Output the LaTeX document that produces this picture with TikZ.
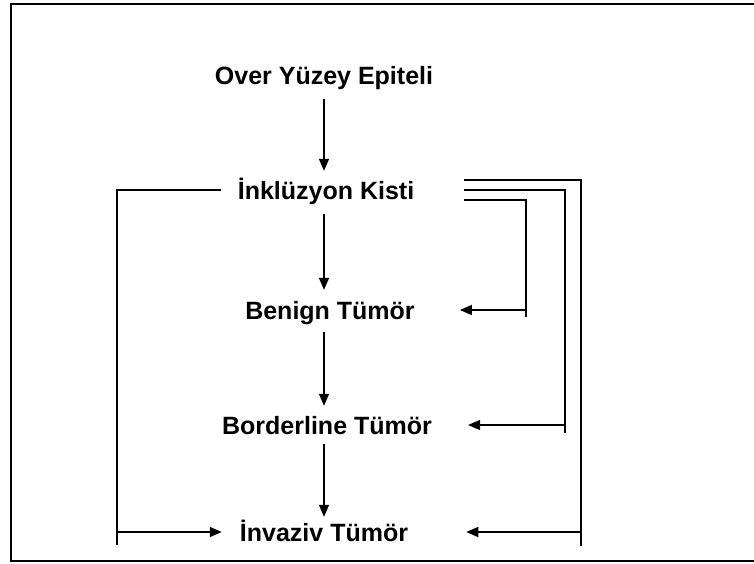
\documentclass[tikz,border=0pt]{standalone}
\usepackage{fontspec}
\setmainfont{Liberation Sans}
\usetikzlibrary{arrows.meta,calc}
\begin{document}
\begin{tikzpicture}[x=1pt,y=-1pt,
  lbl/.style={font=\fontsize{25pt}{30pt}\selectfont\bfseries, inner sep=0pt, text height=18pt, text depth=0pt, anchor=center},
  conn/.style={line width=1.5pt},
  arr/.style={conn, -{Triangle[length=12pt,width=10pt]}},
  frame/.style={line width=2.4pt}]
\useasboundingbox (0,0) rectangle (754,563);
\draw[frame] (754,4) -- (11,4) -- (11,561) -- (754,561);

\node[lbl] (o) at (324,75) {Over Yüzey Epiteli};
\node[lbl] (k) at (326,190) {İnklüzyon Kisti};
\node[lbl] (b) at (330,310) {Benign Tümör};
\node[lbl] (d) at (327,425) {Borderline Tümör};
\node[lbl] (v) at (324,532) {İnvaziv Tümör};

% vertical chain
\draw[arr, shorten <=15pt, shorten >=10pt] (o.south -| 324,0) -- (k.north -| 324,0);
\draw[arr, shorten <=15pt, shorten >=11pt] (k.south -| 324,0) -- (b.north -| 324,0);
\draw[arr, shorten <=13pt, shorten >=10pt] (b.south -| 324,0) -- (d.north -| 324,0);
\draw[arr, shorten <=10pt, shorten >=6pt] (d.south -| 324,0) -- (v.north -| 324,0);

% left loop: Inkluzyon -> Invaziv
\coordinate (lb) at (117,545);
\draw[conn] ([xshift=-17pt]k.west) -| (lb);
\draw[arr] (lb |- v) -- ([xshift=-18pt]v.west);

% right loops
\coordinate (r1) at (581,546);
\coordinate (r2) at (565,433);
\coordinate (r3) at (526,317);
\draw[conn] ([xshift=50pt,yshift=10pt]k.east) -| (r1);
\draw[conn] ([xshift=50pt]k.east) -| (r2);
\draw[conn] ([xshift=50pt,yshift=-10pt]k.east) -| (r3);
\draw[arr] (r3 |- b) -- ([xshift=45pt]b.east);
\draw[arr] (r2 |- d) -- ([xshift=36pt]d.east);
\draw[arr] (r1 |- v) -- ([xshift=58pt]v.east);
\end{tikzpicture}
\end{document}
